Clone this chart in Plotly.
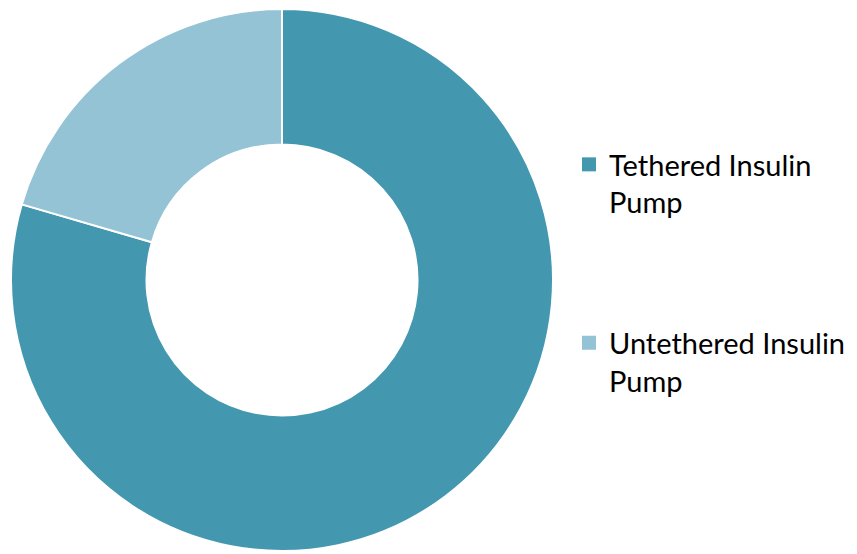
import plotly.graph_objects as go

labels = ["Tethered Insulin<br>Pump", "Untethered Insulin<br>Pump"]
values = [79.5, 20.5]
colors = ["#4398B0", "#93C3D4"]

fig = go.Figure()
fig.add_trace(go.Pie(
    labels=labels,
    values=values,
    hole=0.5,
    sort=False,
    direction="clockwise",
    rotation=0,
    textinfo="none",
    hoverinfo="label+percent",
    showlegend=False,
    marker=dict(colors=colors, line=dict(color="white", width=2)),
    domain=dict(x=[3/857, 545/857], y=[11/554, 553/554]),
))

# legend entries (one per category)
for i, (lab, col) in enumerate(zip(labels, colors)):
    fig.add_trace(go.Scatter(
        x=[None], y=[None], mode="markers", name=lab,
        legendgroup=f"g{i}",
        marker=dict(symbol="square", size=14, color=col),
        hoverinfo="skip",
    ))

fig.update_layout(
    width=857, height=554,
    margin=dict(l=0, r=0, t=0, b=0),
    paper_bgcolor="white",
    plot_bgcolor="white",
    showlegend=True,
    xaxis=dict(visible=False),
    yaxis=dict(visible=False),
    legend=dict(
        x=561/857, xanchor="left",
        y=1 - 131/554, yanchor="top",
        valign="top",
        tracegroupgap=100,
        font=dict(family="Lato", size=29, color="#000000"),
        bgcolor="rgba(0,0,0,0)",
    ),
)

fig.write_html("out.html")
